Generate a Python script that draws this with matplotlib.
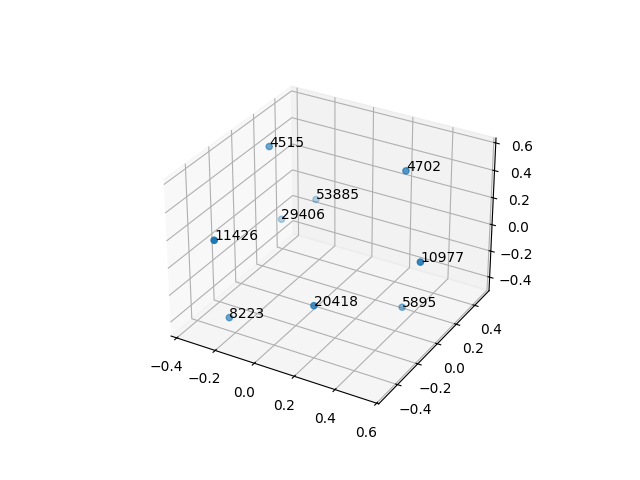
import matplotlib
matplotlib.use("Agg")
import matplotlib.pyplot as plt

labels = ["4515", "4702", "53885", "29406", "11426", "10977", "8223", "20418", "5895"]
xs = [-0.273, 0.325, -0.195, -0.299, -0.199, 0.534, -0.231, 0.151, 0.36]
ys = [0.065, 0.237, 0.36, 0.213, -0.558, -0.036, -0.398, -0.306, 0.153]
zs = [0.536, 0.486, -0.009, -0.108, 0.288, 0.092, -0.406, -0.208, -0.455]

fig = plt.figure(figsize=(6.4, 4.8), dpi=100)
ax = fig.add_subplot(projection="3d")
ax.scatter(xs, ys, zs)
for x, y, z, label in zip(xs, ys, zs, labels):
    ax.text(x, y, z, label)

ax.set_xlim(-0.43, 0.61)
ax.set_ylim(-0.58, 0.56)
ax.set_zlim(-0.505, 0.635)
fig.savefig("out.png", dpi=100)
